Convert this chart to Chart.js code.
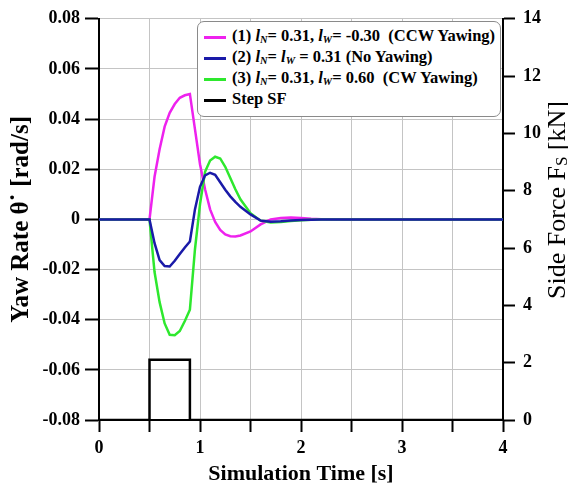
<!DOCTYPE html>
<html>
<head>
<meta charset="utf-8">
<script src="https://cdn.jsdelivr.net/npm/chart.js@4.4.1/dist/chart.umd.min.js"></script>
<style>
  body { margin: 0; background: #fff; }
  .wrap { position: relative; width: 568px; height: 485px; }
  .legend-box {
    position: absolute; left: 197px; top: 21px; width: 304px; height: 96px;
    border: 1px solid #8a8a8a; border-radius: 7px; background: #fff;
    font: bold 16.5px "Liberation Serif", serif; color: #000;
    box-sizing: border-box; padding: 3px 0 0 6px;
  }
  .legend-row { height: 21px; line-height: 21px; white-space: nowrap; }
  .legend-line { display: inline-block; width: 22px; height: 3px; vertical-align: middle; margin-right: 6px; }
  .legend-row sub { font-size: 10.5px; vertical-align: -2px; }
</style>
</head>
<body>
<div class="wrap">
  <canvas id="chart" width="568" height="485"></canvas>
  <div class="legend-box">
    <div class="legend-row"><span class="legend-line" style="background:#ee22ee"></span>(1) <i>l<sub>N</sub></i>= 0.31, <i>l<sub>W</sub></i>= -0.30&nbsp; (CCW Yawing)</div>
    <div class="legend-row"><span class="legend-line" style="background:#1a1aa8"></span>(2) <i>l<sub>N</sub></i>= <i>l<sub>W</sub></i> = 0.31 (No Yawing)</div>
    <div class="legend-row"><span class="legend-line" style="background:#2ee82e"></span>(3) <i>l<sub>N</sub></i>= 0.31, <i>l<sub>W</sub></i>= 0.60&nbsp; (CW Yawing)</div>
    <div class="legend-row"><span class="legend-line" style="background:#000"></span>Step SF</div>
  </div>
</div>
<script>
// data
const timeS = [0, 0.45, 0.5, 0.55, 0.6, 0.65, 0.7, 0.75, 0.8, 0.85, 0.9, 0.95, 1.0, 1.05, 1.1, 1.15, 1.2,
  1.25, 1.3, 1.35, 1.4, 1.5, 1.6, 1.7, 1.8, 1.9, 2.0, 2.1, 2.2, 2.4, 4.0];
const yawCCW = [0, 0, 0, 0.017, 0.028, 0.037, 0.0425, 0.046, 0.0485, 0.0495, 0.050, 0.036, 0.022, 0.012, 0.004,
  -0.001, -0.0042, -0.006, -0.0067, -0.0068, -0.0064, -0.0048, -0.002, 0, 0.0006, 0.0008, 0.0006, 0.0003, 0.0001, 0, 0];
const yawNone = [0, 0, 0, -0.0095, -0.0162, -0.0186, -0.0188, -0.0165, -0.0138, -0.0112, -0.0088, 0.004, 0.013,
  0.0175, 0.0186, 0.0178, 0.0148, 0.0118, 0.0092, 0.007, 0.005, 0.002, -0.0005, -0.0009, -0.0007, -0.0004, -0.0002,
  -0.0001, 0, 0, 0];
const yawCW = [0, 0, 0, -0.021, -0.033, -0.0415, -0.046, -0.0462, -0.0445, -0.0405, -0.036, -0.012, 0.006, 0.019,
  0.0235, 0.025, 0.0243, 0.021, 0.0165, 0.012, 0.008, 0.0025, -0.0005, -0.0012, -0.001, -0.0006, -0.0003, -0.0001,
  0, 0, 0];
const stepTimes = [0, 0.5, 0.5, 0.9, 0.9, 4];
const stepForce = [0, 0, 2.1, 2.1, 0, 0];

const timeTicks = ["0", "", "1", "", "2", "", "3", "", "4"];
const yawTicks = ["-0.08", "-0.06", "-0.04", "-0.02", "0", "0.02", "0.04", "0.06", "0.08"];
const forceTicks = ["0", "2", "4", "6", "8", "10", "12", "14"];

const pts = (xs, ys) => xs.map((x, i) => ({ x: x, y: ys[i] }));
const tickFont = { family: "'Liberation Serif', serif", size: 18, weight: "bold" };

// right axis title with subscript
const sideTitle = {
  id: "sideTitle",
  afterDraw(chart) {
    const ctx = chart.ctx;
    const big = "26px 'Liberation Serif', serif";
    const small = "17px 'Liberation Serif', serif";
    const parts = [["Side Force F", big, 0], ["S", small, 5], [" [kN]", big, 0]];
    ctx.save();
    ctx.translate(558, 200);
    ctx.rotate(-Math.PI / 2);
    ctx.fillStyle = "#000";
    ctx.textBaseline = "middle";
    let total = 0;
    parts.forEach((p) => { ctx.font = p[1]; total += ctx.measureText(p[0]).width; });
    let x = -total / 2;
    parts.forEach((p) => {
      ctx.font = p[1];
      ctx.fillText(p[0], x, p[2]);
      x += ctx.measureText(p[0]).width;
    });
    ctx.restore();
  },
};

new Chart(document.getElementById("chart"), {
  type: "line",
  data: {
    datasets: [
      { label: "Step SF", data: pts(stepTimes, stepForce), yAxisID: "yF", borderColor: "#000", borderWidth: 2.5 },
      { label: "(2)", data: pts(timeS, yawNone), yAxisID: "y", borderColor: "#1a1aa8", borderWidth: 2.5 },
      { label: "(3)", data: pts(timeS, yawCW), yAxisID: "y", borderColor: "#2ee82e", borderWidth: 2.5 },
      { label: "(1)", data: pts(timeS, yawCCW), yAxisID: "y", borderColor: "#ee22ee", borderWidth: 2.5 },
    ],
  },
  options: {
    responsive: false,
    animation: false,
    layout: { padding: { top: 17, right: 0, left: 0, bottom: 0 } },
    elements: { point: { radius: 0 }, line: { tension: 0 } },
    plugins: { legend: { display: false }, tooltip: { enabled: false } },
    scales: {
      x: {
        type: "linear", min: 0, max: 4,
        afterFit: (s) => { s.height = 65; },
        ticks: { stepSize: 0.5, color: "#000", font: tickFont, padding: 6, maxRotation: 0,
          callback: (v, i) => timeTicks[i] },
        grid: { color: "#c4c4c4", tickColor: "#000", tickLength: 12, lineWidth: 1, tickWidth: 2 },
        border: { color: "#000", width: 2 },
        title: { display: true, text: "Simulation Time [s]", color: "#000",
          font: { family: "'Liberation Serif', serif", size: 22, weight: "bold", lineHeight: 1 },
          padding: { top: 0, bottom: 0 } },
      },
      y: {
        position: "left", min: -0.08, max: 0.08,
        afterFit: (s) => { s.width = 99; },
        ticks: { stepSize: 0.02, color: "#000", font: tickFont, padding: 5,
          callback: (v, i) => yawTicks[i] },
        grid: { color: "#c4c4c4", tickColor: "#000", tickLength: 14, lineWidth: 1, tickWidth: 2 },
        border: { color: "#000", width: 2 },
        title: { display: true, text: "Yaw Rate \u03B8\u02D9 [rad/s]", color: "#000",
          font: { family: "'Liberation Serif', serif", size: 25, weight: "bold", lineHeight: 1.2 },
          padding: { top: 7, bottom: 0 } },
      },
      yF: {
        position: "right", min: 0, max: 14,
        afterFit: (s) => { s.width = 65; },
        ticks: { stepSize: 2, color: "#000", font: tickFont, padding: 8,
          callback: (v, i) => forceTicks[i] },
        grid: { drawOnChartArea: false, tickColor: "#000", tickLength: 12, tickWidth: 2 },
        border: { color: "#000", width: 2 },
      },
    },
  },
  plugins: [sideTitle],
});
</script>
</body>
</html>
